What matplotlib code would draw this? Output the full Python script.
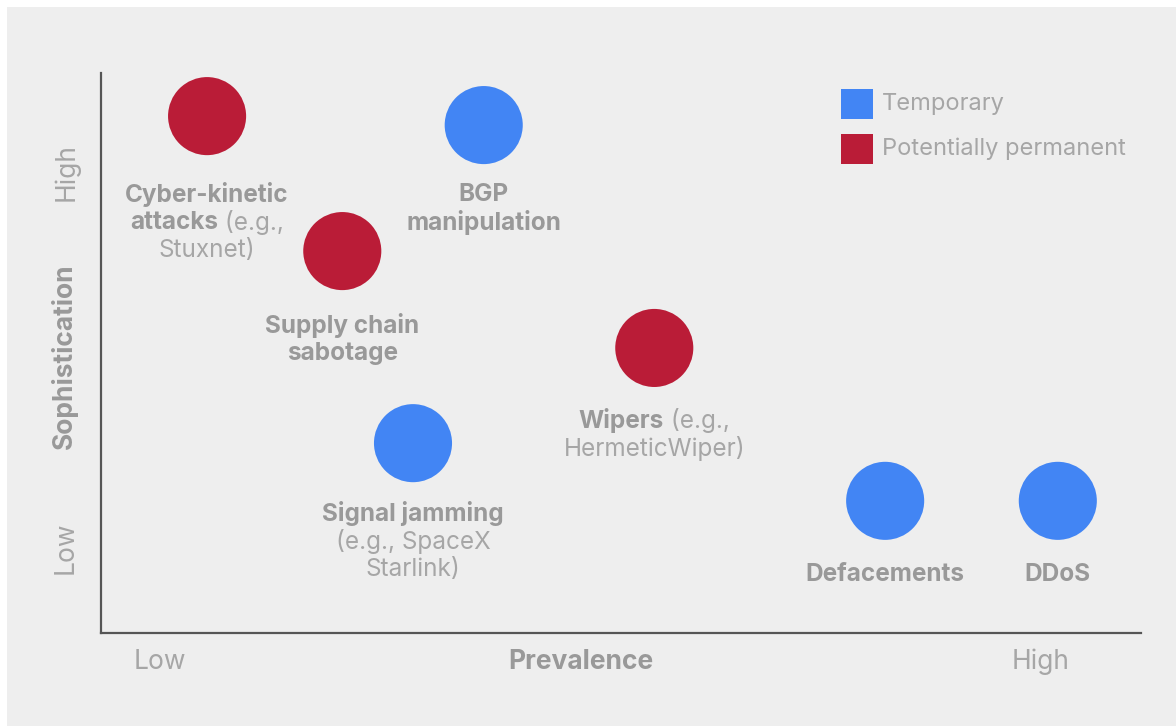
import matplotlib
matplotlib.use("Agg")
import matplotlib.pyplot as plt
from matplotlib.transforms import offset_copy

plt.rcParams['font.family'] = ['Inter', 'DejaVu Sans']

# threat types: prevalence (x) vs sophistication (y), both on a 0-100 scale
prevalence = [10.2, 36.8, 23.2, 53.2, 30.0, 75.4, 92.0]
sophistication = [92.3, 90.7, 68.2, 50.9, 33.9, 23.6, 23.6]
kind = ['perm', 'temp', 'perm', 'perm', 'temp', 'temp', 'temp']
# label lines: each line is a list of (text, bold?) pieces
labels = [
    [[("Cyber-kinetic", True)], [("attacks", True), (" (e.g.,", False)], [("Stuxnet)", False)]],
    [[("BGP", True)], [("manipulation", True)]],
    [[("Supply chain", True)], [("sabotage", True)]],
    [[("Wipers", True), (" (e.g.,", False)], [("HermeticWiper)", False)]],
    [[("Signal jamming", True)], [("(e.g., SpaceX", False)], [("Starlink)", False)]],
    [[("Defacements", True)]],
    [[("DDoS", True)]],
]
label_gap = [78, 69, 74, 73, 70, 74, 74]

legend_names = ["Temporary", "Potentially permanent"]
colors = {'temp': '#4285F4', 'perm': '#BA1C37'}

BG = '#EEEEEE'
BOLD_GREY = '#999999'
LIGHT_GREY = '#A6A6A6'

W, H = 1176, 726
fig = plt.figure(figsize=(W / 100, H / 100), dpi=100, facecolor='white')
fig.patches.append(plt.Rectangle((7 / W, 0), 1 - 7 / W, 1 - 7 / H, transform=fig.transFigure,
                                 facecolor=BG, edgecolor='none', zorder=-10))

ax = fig.add_axes([101 / W, 1 - 633 / H, 1040 / W, 560 / H])
ax.patch.set_alpha(0)
ax.set_xlim(0, 100)
ax.set_ylim(0, 100)
ax.set_xticks([])
ax.set_yticks([])
for s in ['top', 'right']:
    ax.spines[s].set_visible(False)
for s in ['left', 'bottom']:
    ax.spines[s].set_color('#555555')
    ax.spines[s].set_linewidth(1.6)

ax.scatter(prevalence, sophistication, s=3160, c=[colors[k] for k in kind],
           edgecolors='none', zorder=3, clip_on=False)

FS = 17.5
renderer = fig.canvas.get_renderer()


def text_width(s, bold):
    t = fig.text(0, 0, s, fontsize=FS, fontweight='bold' if bold else 'normal')
    w = t.get_window_extent(renderer).width
    t.remove()
    return w


for x, y, lines, gap in zip(prevalence, sophistication, labels, label_gap):
    for i, pieces in enumerate(lines):
        widths = [text_width(p, b) for p, b in pieces]
        left = -sum(widths) / 2
        for (p, b), w in zip(pieces, widths):
            tr = offset_copy(ax.transData, fig=fig, x=left, y=-(gap + 28 * i), units='dots')
            ax.text(x, y, p, transform=tr, fontsize=FS, ha='left', va='center',
                    fontweight='bold' if b else 'normal',
                    color=BOLD_GREY if b else LIGHT_GREY)
            left += w

# legend squares
for i, (name, k) in enumerate(zip(legend_names, ['temp', 'perm'])):
    yc = 1 - (104 + 45 * i) / H
    fig.patches.append(plt.Rectangle((841 / W, yc - 15 / H), 32 / W, 30 / H,
                                     transform=fig.transFigure, facecolor=colors[k],
                                     edgecolor='none'))
    fig.text(882 / W, yc, name, fontsize=17, fontweight='normal', color=LIGHT_GREY,
             va='center', ha='left')

# axis titles and low/high markers
AFS = 19
fig.text(581 / W, 1 - 662 / H, "Prevalence", fontsize=AFS, fontweight='bold',
         color=BOLD_GREY, ha='center', va='center')
fig.text(160 / W, 1 - 662 / H, "Low", fontsize=AFS, fontweight='normal',
         color=LIGHT_GREY, ha='center', va='center')
fig.text(1041 / W, 1 - 662 / H, "High", fontsize=AFS, fontweight='normal',
         color=LIGHT_GREY, ha='center', va='center')
fig.text(64 / W, 1 - 356 / H, "Sophistication", fontsize=AFS, fontweight='bold',
         color=BOLD_GREY, ha='center', va='center', rotation=90)
fig.text(66 / W, 1 - 172 / H, "High", fontsize=AFS, fontweight='normal',
         color=LIGHT_GREY, ha='center', va='center', rotation=90)
fig.text(66 / W, 1 - 548 / H, "Low", fontsize=AFS, fontweight='normal',
         color=LIGHT_GREY, ha='center', va='center', rotation=90)

fig.savefig('out.png', dpi=100, facecolor='white')
